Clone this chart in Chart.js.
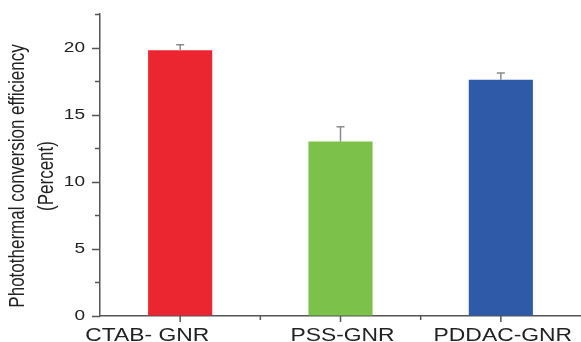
<!DOCTYPE html>
<html>
<head>
<meta charset="utf-8">
<script src="https://cdn.jsdelivr.net/npm/chart.js@4.4.1/dist/chart.umd.min.js"></script>
<style>
  html, body { margin: 0; padding: 0; background: #fff; }
  #wrap { width: 581px; height: 342px; }
</style>
</head>
<body>
<div id="wrap"><canvas id="myChart" width="581" height="342"></canvas></div>
<script>
// data
const categories = ['CTAB- GNR', 'PSS-GNR', 'PDDAC-GNR'];
const efficiency = [19.8, 13.0, 17.6];
const errorUp = [0.4, 1.1, 0.5];
const barColors = ['#ec2630', '#7bc14a', '#2e5aa8'];
const yTicks = [0, 5, 10, 15, 20];
const yTitle = ['Photothermal conversion efficiency', '(Percent)'];

const fontFamily = '"Liberation Sans", Arial, sans-serif';
const axisColor = '#555';
const textColor = '#222';
const stretch = 1.27; // the source figure is a bit wider than tall

// error bars (upper half only, the lower half sits inside the bar)
const errorBars = {
    id: 'errorBars',
    afterDatasetsDraw(chart) {
        const ctx = chart.ctx;
        const y = chart.scales.y;
        const meta = chart.getDatasetMeta(0);
        ctx.save();
        ctx.strokeStyle = '#8a8a8a';
        ctx.lineWidth = 1.5;
        meta.data.forEach((bar, i) => {
            const top = y.getPixelForValue(efficiency[i] + errorUp[i]);
            const base = y.getPixelForValue(efficiency[i]);
            ctx.beginPath();
            ctx.moveTo(bar.x, base);
            ctx.lineTo(bar.x, top);
            ctx.moveTo(bar.x - 4, top);
            ctx.lineTo(bar.x + 4, top);
            ctx.stroke();
        });
        ctx.restore();
    }
};

// text drawn a bit wider than the font, like the source
function wideText(ctx, text, x, y, align) {
    ctx.save();
    ctx.translate(x, y);
    ctx.scale(stretch, 1);
    ctx.textAlign = align;
    ctx.fillText(text, 0, 0);
    ctx.restore();
}

// outside tick marks, tick labels and the y title
const axisDecor = {
    id: 'axisDecor',
    afterDraw(chart) {
        const ctx = chart.ctx;
        const x = chart.scales.x;
        const y = chart.scales.y;
        const area = chart.chartArea;
        ctx.save();
        ctx.strokeStyle = axisColor;
        ctx.lineWidth = 1.5;
        ctx.beginPath();
        y.ticks.forEach(t => {
            const py = Math.round(y.getPixelForValue(t.value)) + 0.5;
            const len = yTicks.includes(t.value) ? 8 : 5;
            ctx.moveTo(area.left - len, py);
            ctx.lineTo(area.left, py);
        });
        categories.forEach((c, i) => {
            const px = x.getPixelForValue(i);
            ctx.moveTo(px, area.bottom);
            ctx.lineTo(px, area.bottom + 6);
            if (i > 0) {
                const mid = (px + x.getPixelForValue(i - 1)) / 2;
                ctx.moveTo(mid, area.bottom);
                ctx.lineTo(mid, area.bottom + 4);
            }
        });
        ctx.stroke();

        ctx.fillStyle = textColor;
        ctx.textBaseline = 'middle';
        ctx.font = '15px ' + fontFamily;
        yTicks.forEach(v => {
            wideText(ctx, String(v), area.left - 15, y.getPixelForValue(v), 'right');
        });

        ctx.font = '18px ' + fontFamily;
        ctx.textBaseline = 'alphabetic';
        categories.forEach((c, i) => {
            // the first label sits left of its tick in the source
            const px = x.getPixelForValue(i) + (i === 0 ? -33 : 2);
            wideText(ctx, c, px, area.bottom + 25, 'center');
        });

        // y axis title, two lines
        ctx.font = '17px ' + fontFamily;
        ctx.textAlign = 'center';
        ctx.textBaseline = 'middle';
        ctx.translate(18, 176);
        ctx.scale(stretch, 1);
        ctx.rotate(-Math.PI / 2);
        ctx.fillText(yTitle[0], 0, 0);
        ctx.fillText(yTitle[1], 0, 23);
        ctx.restore();
    }
};

const ctx = document.getElementById('myChart').getContext('2d');
const myChart = new Chart(ctx, {
    type: 'bar',
    data: {
        labels: categories,
        datasets: [{
            data: efficiency,
            backgroundColor: barColors,
            borderWidth: 0,
            barPercentage: 0.8,
            categoryPercentage: 0.5
        }]
    },
    options: {
        responsive: false,
        animation: false,
        devicePixelRatio: 1,
        layout: { padding: { top: 14, left: 0, right: 0, bottom: 0 } },
        plugins: {
            legend: { display: false },
            tooltip: { enabled: false }
        },
        scales: {
            x: {
                grid: { display: true, drawOnChartArea: false, drawTicks: false },
                border: { display: true, color: axisColor, width: 1.5 },
                ticks: { display: false },
                afterFit(scale) { scale.height = 26; }
            },
            y: {
                min: 0,
                max: 22.5,
                grid: { display: true, drawOnChartArea: false, drawTicks: false },
                border: { display: true, color: axisColor, width: 1.5 },
                ticks: { stepSize: 2.5, display: false },
                afterFit(scale) { scale.width = 100; }
            }
        }
    },
    plugins: [errorBars, axisDecor]
});
</script>
</body>
</html>
